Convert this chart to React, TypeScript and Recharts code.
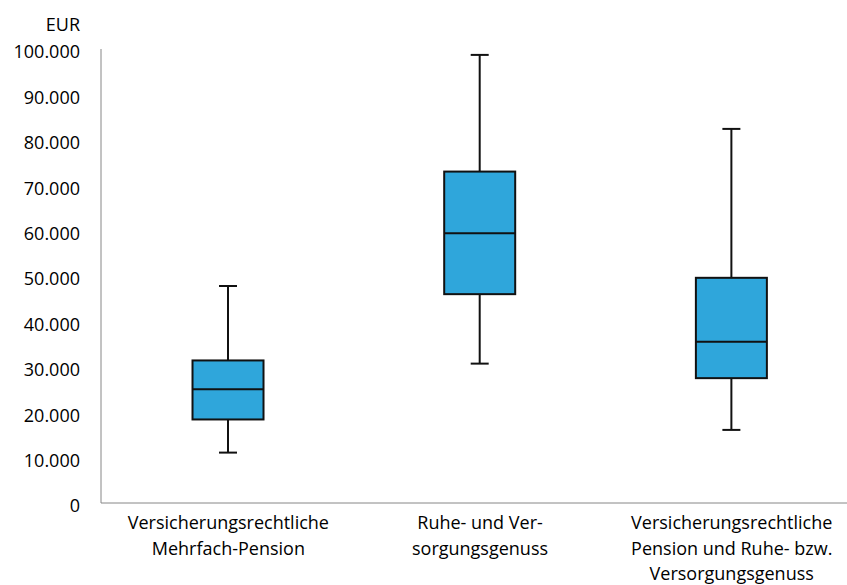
import React from 'react';
import { ComposedChart, Bar, XAxis, YAxis, Label } from 'recharts';

// category labels, one entry per line
const categories = [
  ['Versicherungsrechtliche', 'Mehrfach-Pension'],
  ['Ruhe- und Ver-', 'sorgungsgenuss'],
  ['Versicherungsrechtliche', 'Pension und Ruhe- bzw.', 'Versorgungsgenuss'],
];
const positions = [1, 2, 3];

// box plot statistics (EUR)
const minValues = [11100, 30700, 16100];
const q1Values = [18400, 46000, 27500];
const medianValues = [25050, 59400, 35500];
const q3Values = [31400, 73000, 49600];
const maxValues = [47800, 98700, 82400];

const yTicks = [0, 10000, 20000, 30000, 40000, 50000, 60000, 70000, 80000, 90000, 100000];

const data = positions.map((pos, i) => ({
  pos,
  min: minValues[i],
  q1: q1Values[i],
  median: medianValues[i],
  q3: q3Values[i],
  max: maxValues[i],
}));

const AXIS = '#868686';
const FILL = '#2FA6DB';
const EDGE = '#111111';
const FONT_SIZE = 18;

const formatEur = (v: number) => String(v).replace(/\B(?=(\d{3})+(?!\d))/g, '.');

// bar runs 0..max, so every other value maps linearly inside it
const BoxShape = (props: any) => {
  const { x, y, width, height, payload } = props;
  const px = (v: number) => y + height * (1 - v / payload.max);
  const cx = x + width / 2;
  const cap = 9;
  const top = px(payload.q3);
  const bottom = px(payload.q1);
  return (
    <g>
      <line x1={cx} x2={cx} y1={px(payload.max)} y2={top} stroke={EDGE} strokeWidth={2} />
      <line x1={cx} x2={cx} y1={bottom} y2={px(payload.min)} stroke={EDGE} strokeWidth={2} />
      <line x1={cx - cap} x2={cx + cap} y1={px(payload.max)} y2={px(payload.max)} stroke={EDGE} strokeWidth={2} />
      <line x1={cx - cap} x2={cx + cap} y1={px(payload.min)} y2={px(payload.min)} stroke={EDGE} strokeWidth={2} />
      <rect x={x} y={top} width={width} height={bottom - top} fill={FILL} stroke={EDGE} strokeWidth={2} />
      <line x1={x} x2={x + width} y1={px(payload.median)} y2={px(payload.median)} stroke={EDGE} strokeWidth={2} />
    </g>
  );
};

const CategoryTick = (props: any) => {
  const { x, y, payload } = props;
  const lines = categories[positions.indexOf(payload.value)] || [];
  return (
    <text x={x} y={y} textAnchor="middle" fontSize={FONT_SIZE} fill="#000">
      {lines.map((line, i) => (
        <tspan key={i} x={x} dy={i === 0 ? 26 : 25.5}>
          {line}
        </tspan>
      ))}
    </text>
  );
};

export default function App() {
  return (
    <div style={{ position: 'absolute', left: 0, top: 0, fontFamily: '"Open Sans", sans-serif', background: '#fff' }}>
      <ComposedChart width={847} height={585} data={data} margin={{ top: 49, right: 0, bottom: 0, left: 0 }}>
        <XAxis
          type="number"
          dataKey="pos"
          domain={[0.494, 3.458]}
          allowDataOverflow
          ticks={positions}
          interval={0}
          tick={<CategoryTick />}
          tickLine={false}
          tickSize={0}
          tickMargin={0}
          axisLine={{ stroke: AXIS }}
          height={82}
        />
        <YAxis
          type="number"
          domain={[0, 100000]}
          ticks={yTicks}
          interval={0}
          tickFormatter={formatEur}
          tickLine={false}
          tickSize={0}
          tickMargin={21}
          tick={{ fill: '#000', fontSize: FONT_SIZE, dy: 3 }}
          axisLine={{ stroke: AXIS }}
          width={101}
        >
          <Label
            content={(p: any) => (
              <text
                x={p.viewBox.x + p.viewBox.width - 21}
                y={p.viewBox.y - 24}
                dy="0.35em"
                textAnchor="end"
                fontSize={FONT_SIZE}
                fill="#000"
              >
                EUR
              </text>
            )}
          />
        </YAxis>
        <Bar dataKey="max" barSize={71} shape={BoxShape} isAnimationActive={false} />
      </ComposedChart>
    </div>
  );
}
